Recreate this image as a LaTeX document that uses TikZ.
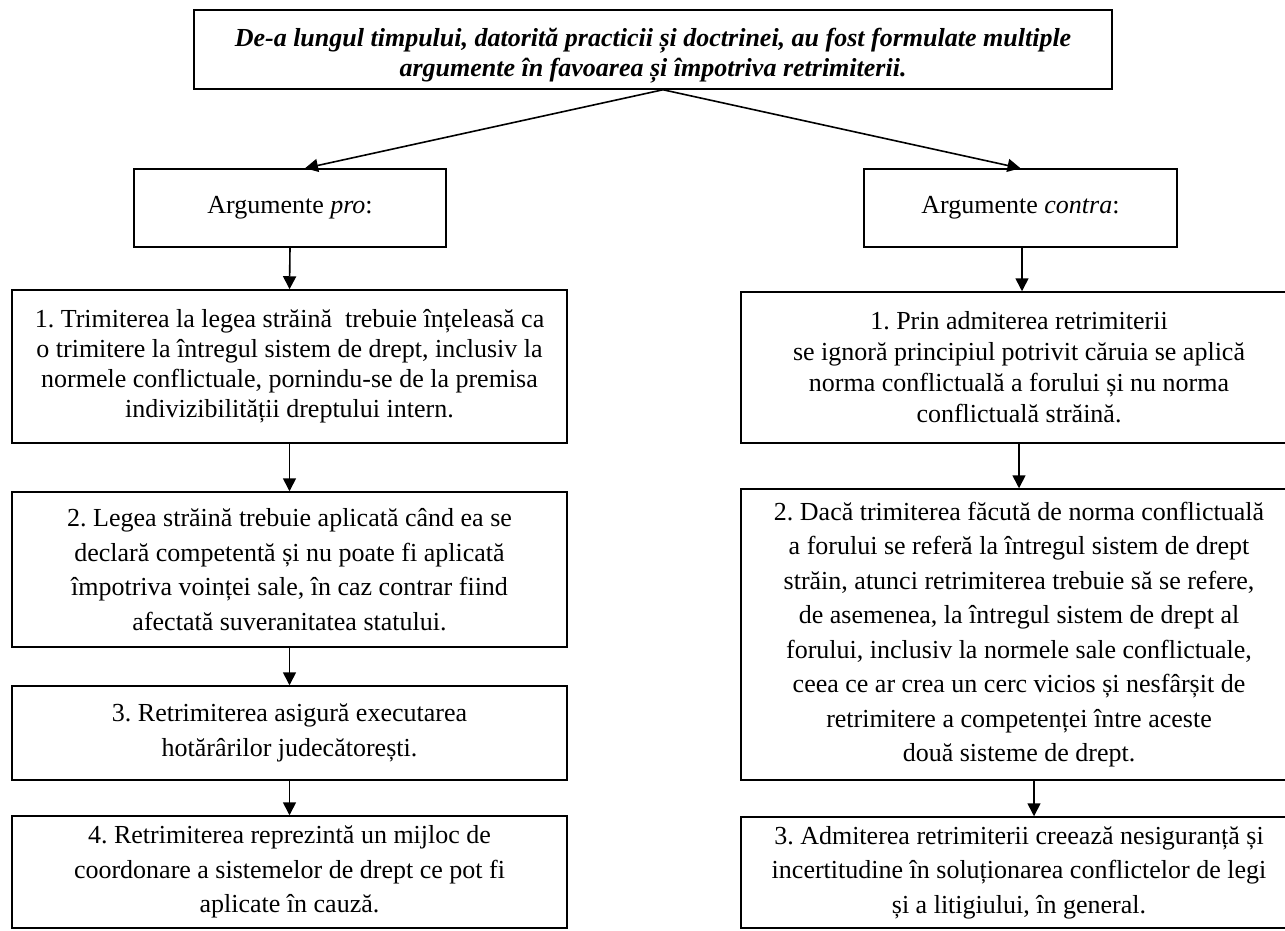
\documentclass[tikz,border=0pt]{standalone}
\usepackage{fontspec}
\setmainfont{Liberation Serif}
\usetikzlibrary{arrows.meta,calc}
\frenchspacing
\begin{document}
\begin{tikzpicture}[x=1pt,y=-1pt,
  box/.style={draw, line width=1.5pt, rectangle, align=center, inner sep=0pt},
  conn/.style={line width=1.6pt, -{Triangle[width=13pt,length=13pt]}},
  fthirty/.style={font=\fontsize{26}{30}\selectfont},
  fthirtyfive/.style={font=\fontsize{26}{34.5}\selectfont}]
\useasboundingbox (0,0) rectangle (1285,930);

\node[box,fthirty,minimum width=918pt,minimum height=79pt] (top) at (653,49.5)
  {\rule{0pt}{30pt}\bfseries\itshape De-a lungul timpului, datorită practicii și doctrinei, au fost formulate multiple\\
   \bfseries\itshape argumente în favoarea și împotriva retrimiterii.};

\node[box,fthirty,minimum width=312pt,minimum height=78pt] (pro) at (290,208)
  {Argumente \textit{pro}:};
\node[box,fthirty,minimum width=313pt,minimum height=78pt] (contra) at (1020.5,208)
  {Argumente \textit{contra}:};

\node[box,fthirty,minimum width=555pt,minimum height=153pt] (p1) at (289.5,366.5)
  {1. Trimiterea la legea străină\ \ trebuie înțeleasă ca\\
   o trimitere la întregul sistem de drept, inclusiv la\\
   normele conflictuale, pornindu-se de la premisa\\
   indivizibilității dreptului intern.};
\node[box,fthirtyfive,minimum width=555pt,minimum height=155pt] (p2) at (289.5,569.5)
  {2. Legea străină trebuie aplicată când ea se\\
   declară competentă și nu poate fi aplicată\\
   împotriva voinței sale, în caz contrar fiind\\
   afectată suveranitatea statului.};
\node[box,fthirtyfive,minimum width=555pt,minimum height=94pt] (p3) at (289.5,733)
  {3. Retrimiterea asigură executarea\\
   hotărârilor judecătorești.};
\node[box,fthirtyfive,minimum width=555pt,minimum height=112pt] (p4) at (289.5,872)
  {4. Retrimiterea reprezintă un mijloc de\\
   coordonare a sistemelor de drept ce pot fi\\
   aplicate în cauză.};

\node[box,font=\fontsize{26}{31}\selectfont,minimum width=556pt,minimum height=151pt] (c1) at (1019,367.5)
  {1. Prin admiterea retrimiterii\\
   se ignoră principiul potrivit căruia se aplică\\
   norma conflictuală a forului și nu norma\\
   conflictuală străină.};
\node[box,fthirtyfive,minimum width=556pt,minimum height=291pt] (c2) at (1019,634.5)
  {2. Dacă trimiterea făcută de norma conflictuală\\
   a forului se referă la întregul sistem de drept\\
   străin, atunci retrimiterea trebuie să se refere,\\
   de asemenea, la întregul sistem de drept al\\
   forului, inclusiv la normele sale conflictuale,\\
   ceea ce ar crea un cerc vicios și nesfârșit de\\
   retrimitere a competenței între aceste\\
   două sisteme de drept.};
\node[box,fthirtyfive,minimum width=556pt,minimum height=111pt] (c3) at (1019,872.5)
  {3. Admiterea retrimiterii creează nesiguranță și\\
   incertitudine în soluționarea conflictelor de legi\\
   și a litigiului, în general.};

\coordinate (tops) at ($(top.south)+(10,0)$);
\draw[conn] (tops) -- ($(pro.north)+(15,0)$);
\draw[conn] (tops) -- (contra.north);

\draw[conn] (pro.south) -- (p1.north);
\draw[conn] (p1.south) -- (p2.north);
\draw[conn] (p2.south) -- (p3.north);
\draw[conn] (p3.south) -- (p4.north);

\draw[conn] ($(contra.south)+(1.5,0)$) -- ($(c1.north)+(3,0)$);
\draw[conn] (c1.south) -- (c2.north);
\draw[conn] ($(c2.south)+(15,0)$) -- ($(c3.north)+(15,0)$);
\end{tikzpicture}
\end{document}
